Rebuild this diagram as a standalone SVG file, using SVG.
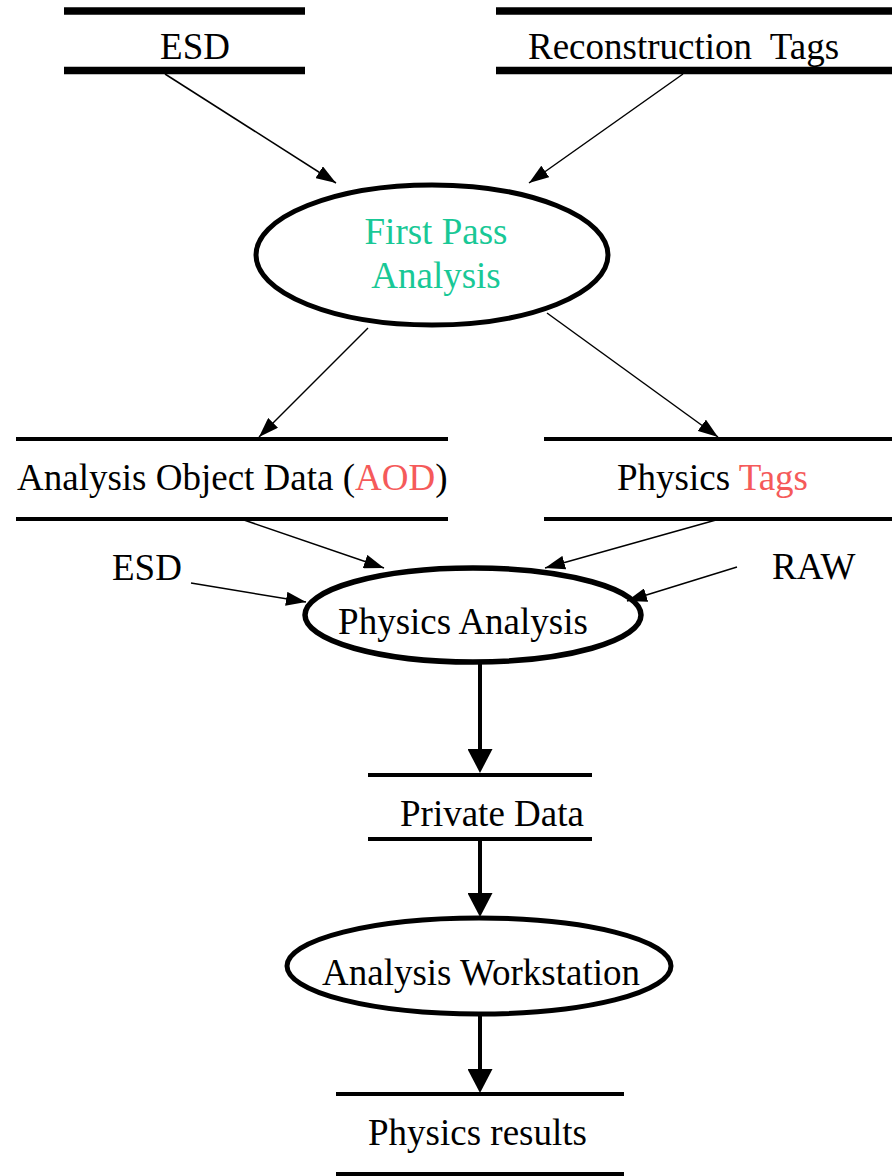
<svg xmlns="http://www.w3.org/2000/svg" width="892" height="1176" viewBox="0 0 892 1176">
  <style>
    text { font-family: "Liberation Serif", "Times New Roman", serif; font-size: 37px; fill: #000; }
    .green { fill: #19C896; }
    .red { fill: #F55A5A; }
    .bar { stroke: #000; stroke-width: 4; }
    .bar-heavy { stroke: #000; stroke-width: 7.5; }
    .proc { fill: #fff; stroke: #000; stroke-width: 5; }
    .thin { stroke: #000; stroke-width: 1.5; fill: none; marker-end: url(#head); }
    .thick { stroke: #000; stroke-width: 4; fill: none; marker-end: url(#head-big); }
  </style>
  <defs>
    <marker id="head" markerUnits="userSpaceOnUse" viewBox="0 0 20 14" markerWidth="20" markerHeight="14" refX="20" refY="7" orient="auto">
      <path d="M0,0 L20,7 L0,14 Z" fill="#000"/>
    </marker>
    <marker id="head-big" markerUnits="userSpaceOnUse" viewBox="0 0 24 25" markerWidth="24" markerHeight="25" refX="12" refY="12.5" orient="auto">
      <path d="M0,0 L24,12.5 L0,25 Z" fill="#000"/>
    </marker>
  </defs>

  <!-- data stores and processes -->
  <g id="esd-store">
    <line class="bar-heavy" x1="64" y1="11" x2="305" y2="11"/>
    <line class="bar-heavy" x1="64" y1="70.5" x2="305" y2="70.5"/>
    <text x="195" y="59" text-anchor="middle">ESD</text>
  </g>

  <g id="reco-tags-store">
    <line class="bar-heavy" x1="496" y1="11" x2="892" y2="11"/>
    <line class="bar-heavy" x1="496" y1="70.5" x2="892" y2="70.5"/>
    <text x="528" y="59" xml:space="preserve" style="white-space:pre">Reconstruction  Tags</text>
  </g>

  <g id="first-pass">
    <ellipse class="proc" cx="432" cy="255" rx="176" ry="70"/>
    <text class="green" x="436" y="244" text-anchor="middle">First Pass</text>
    <text class="green" x="436" y="288" text-anchor="middle">Analysis</text>
  </g>

  <g id="aod-store">
    <line class="bar" x1="16" y1="439" x2="448" y2="439"/>
    <line class="bar" x1="16" y1="519" x2="448" y2="519"/>
    <text x="17" y="490">Analysis Object Data (<tspan class="red">AOD</tspan>)</text>
  </g>

  <g id="physics-tags-store">
    <line class="bar" x1="544" y1="439" x2="892" y2="439"/>
    <line class="bar" x1="544" y1="519" x2="892" y2="519"/>
    <text x="617" y="490">Physics <tspan class="red">Tags</tspan></text>
  </g>

  <g id="esd-input">
    <text x="112" y="580">ESD</text>
  </g>

  <g id="raw-input">
    <text x="772" y="579">RAW</text>
  </g>

  <g id="physics-analysis">
    <ellipse class="proc" cx="473" cy="615" rx="168" ry="47" style="stroke-width:5.5"/>
    <text x="463" y="634" text-anchor="middle">Physics Analysis</text>
  </g>

  <g id="private-data">
    <line class="bar" x1="368" y1="775" x2="592" y2="775"/>
    <line class="bar" x1="368" y1="839" x2="592" y2="839"/>
    <text x="400" y="826">Private Data</text>
  </g>

  <g id="workstation">
    <ellipse class="proc" cx="479" cy="966" rx="192" ry="48"/>
    <text x="481" y="985" text-anchor="middle">Analysis Workstation</text>
  </g>

  <g id="physics-results">
    <line class="bar" x1="336" y1="1094" x2="624" y2="1094"/>
    <line class="bar" x1="336" y1="1174" x2="624" y2="1174"/>
    <text x="368" y="1145">Physics results</text>
  </g>

  <!-- flows -->
  <g id="connectors">
    <line class="thin" x1="165" y1="74" x2="336" y2="183"/>
    <line class="thin" x1="683" y1="74" x2="529" y2="183"/>
    <line class="thin" x1="368" y1="328" x2="259" y2="437"/>
    <line class="thin" x1="547" y1="313" x2="718" y2="437"/>
    <line class="thin" x1="244" y1="520" x2="384" y2="568"/>
    <line class="thin" x1="716" y1="520" x2="545" y2="568"/>
    <line class="thin" x1="191" y1="583" x2="306" y2="602"/>
    <line class="thin" x1="737" y1="567" x2="627" y2="601"/>
    <line class="thick" x1="480" y1="663" x2="480" y2="761"/>
    <line class="thick" x1="480" y1="841" x2="480" y2="905"/>
    <line class="thick" x1="480" y1="1014" x2="480" y2="1081"/>
  </g>
</svg>
